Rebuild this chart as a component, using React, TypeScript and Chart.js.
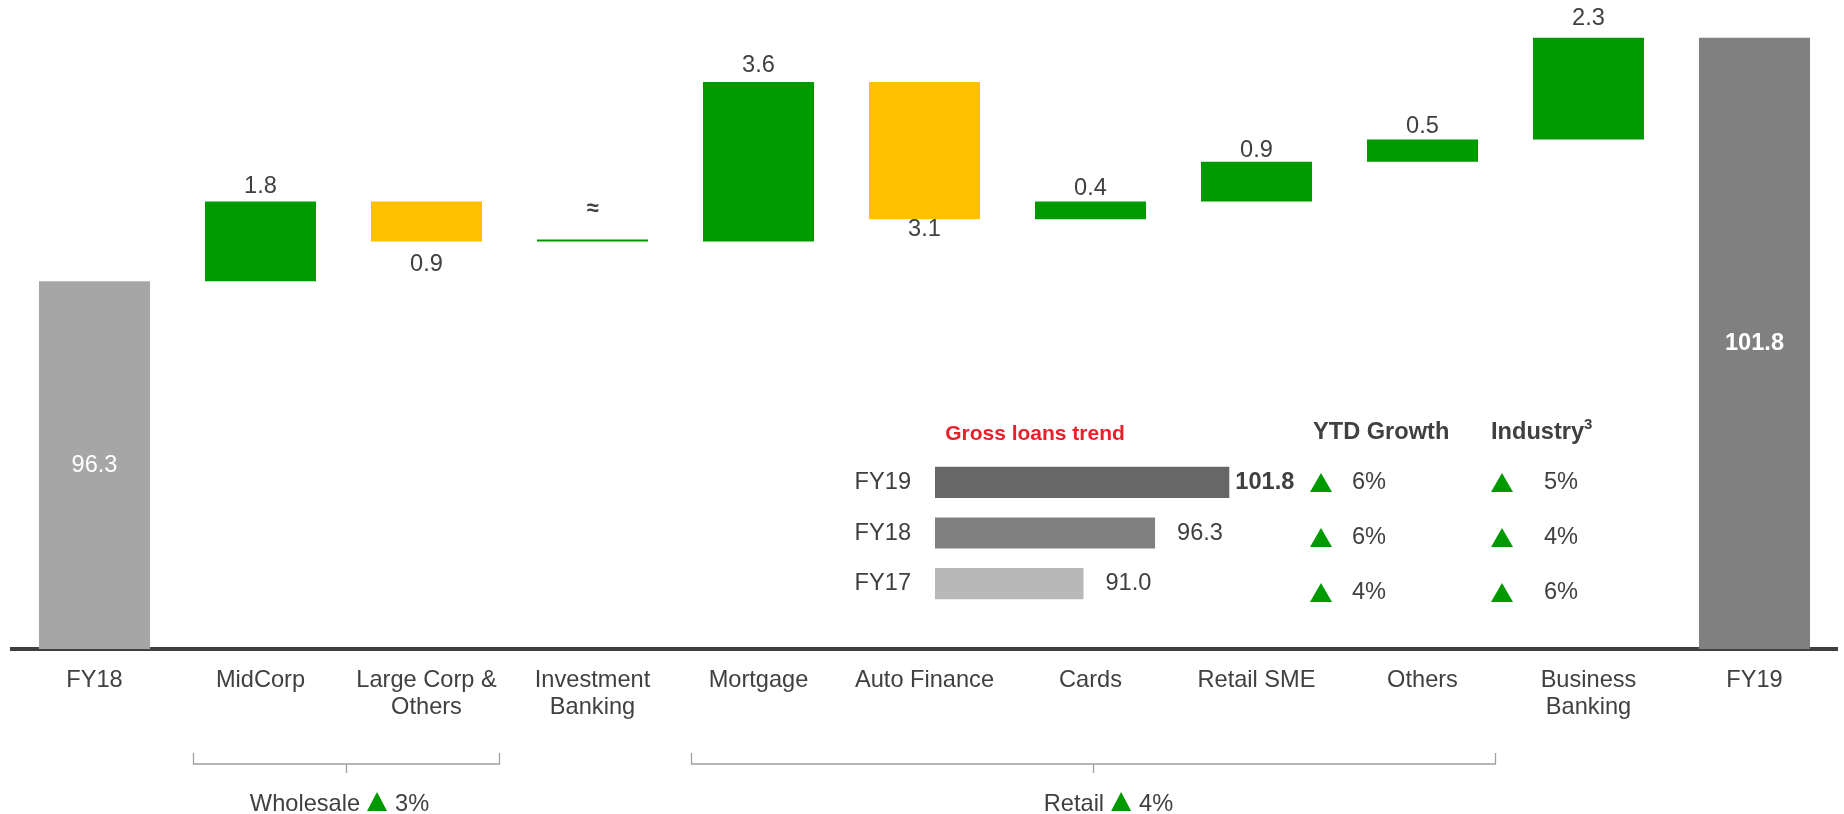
import React, { useEffect, useRef } from "react";
import { Chart, registerables } from "chart.js";

Chart.register(...registerables);

// ---------- data ----------
const categories: string[][] = [
  ["FY18"],
  ["MidCorp"],
  ["Large Corp &", "Others"],
  ["Investment", "Banking"],
  ["Mortgage"],
  ["Auto Finance"],
  ["Cards"],
  ["Retail SME"],
  ["Others"],
  ["Business", "Banking"],
  ["FY19"],
];
const startValue = 96.3;
const changes = [1.8, -0.9, 0, 3.6, -3.1, 0.4, 0.9, 0.5, 2.3];
const changeLabels = ["1.8", "0.9", "≈", "3.6", "3.1", "0.4", "0.9", "0.5", "2.3"];
const endValue = 101.8;
const groupNames = ["Wholesale", "Retail"];
const groupGrowth = ["3%", "4%"];
const groupFrom = [1, 4];
const groupTo = [2, 8];

const trendYears = ["FY19", "FY18", "FY17"];
const trendValues = [101.8, 96.3, 91.0];
const ytdGrowth = ["6%", "6%", "4%"];
const industryGrowth = ["5%", "4%", "6%"];

const axisMin = 88;
const axisMax = 102.65;
const insetMin = 80;
const insetMax = 110;

// ---------- style ----------
const FONT = "'Liberation Sans', Arial, sans-serif";
const TEXT = "#404040";
const GREEN = "#009900";
const YELLOW = "#FFC000";
const labelGap = [0, 9, 13, 0, 10, 0, 7, 5, 7, 13, 0];
const groupTextShift = [-7, 15];
const insetColors = ["#676767", "#808080", "#B8B8B8"];
const insetGap = [6, 22, 22];
const rowY = [482, 537, 592];

function buildBars() {
  const ranges: [number, number][] = [[axisMin, startValue]];
  const colors: string[] = ["#A6A6A6"];
  let cum = startValue;
  changes.forEach((c) => {
    ranges.push([cum, cum + c]);
    colors.push(c < 0 ? YELLOW : GREEN);
    cum += c;
  });
  ranges.push([axisMin, endValue]);
  colors.push("#808080");
  return { ranges, colors };
}

const labelPlugin = {
  id: "wfLabels",
  afterDatasetsDraw(chart: any) {
    const ctx = chart.ctx;
    const meta = chart.getDatasetMeta(0);
    ctx.save();
    meta.data.forEach((bar: any, i: number) => {
      const top = Math.min(bar.y, bar.base);
      const bottom = Math.max(bar.y, bar.base);
      ctx.textAlign = "center";
      if (i === 0 || i === categories.length - 1) {
        const v = i === 0 ? startValue : endValue;
        ctx.fillStyle = "#FFFFFF";
        ctx.font = `${i === 0 ? "" : "bold "}23.6px ${FONT}`;
        ctx.textBaseline = "middle";
        ctx.fillText(v.toFixed(1), bar.x, (top + bottom) / 2);
        return;
      }
      const c = changes[i - 1];
      ctx.fillStyle = TEXT;
      if (c === 0) {
        ctx.font = `bold 22px ${FONT}`;
        ctx.textBaseline = "middle";
        ctx.fillText(changeLabels[i - 1], bar.x, bar.y - 30);
      } else if (c > 0) {
        ctx.font = `23.6px ${FONT}`;
        ctx.textBaseline = "alphabetic";
        ctx.fillText(changeLabels[i - 1], bar.x, top - labelGap[i]);
      } else {
        ctx.font = `23.6px ${FONT}`;
        ctx.textBaseline = "alphabetic";
        ctx.fillText(changeLabels[i - 1], bar.x, bottom + labelGap[i] + 17);
      }
    });

    // group brackets
    const xs = chart.scales.x;
    groupNames.forEach((name, k) => {
      const x1 = xs.getPixelForValue(groupFrom[k]) - 67;
      const x2 = xs.getPixelForValue(groupTo[k]) + 73;
      const mid = (x1 + x2) / 2;
      ctx.strokeStyle = "#A0A0A0";
      ctx.lineWidth = 1.3;
      ctx.beginPath();
      ctx.moveTo(x1, 753);
      ctx.lineTo(x1, 764);
      ctx.lineTo(x2, 764);
      ctx.lineTo(x2, 753);
      ctx.moveTo(mid, 764);
      ctx.lineTo(mid, 773);
      ctx.stroke();

      ctx.font = `23.6px ${FONT}`;
      ctx.textBaseline = "alphabetic";
      ctx.textAlign = "left";
      const w1 = ctx.measureText(name).width;
      const w2 = ctx.measureText(groupGrowth[k]).width;
      const triW = 20;
      const total = w1 + 7 + triW + 8 + w2;
      let x = mid + groupTextShift[k] - total / 2;
      const base = 811;
      ctx.fillStyle = TEXT;
      ctx.fillText(name, x, base);
      x += w1 + 7;
      ctx.fillStyle = GREEN;
      ctx.beginPath();
      ctx.moveTo(x + triW / 2, base - 19);
      ctx.lineTo(x + triW, base);
      ctx.lineTo(x, base);
      ctx.closePath();
      ctx.fill();
      x += triW + 8;
      ctx.fillStyle = TEXT;
      ctx.fillText(groupGrowth[k], x, base);
    });
    ctx.restore();
  },
};

const insetLabelPlugin = {
  id: "insetLabels",
  afterDatasetsDraw(chart: any) {
    const ctx = chart.ctx;
    const meta = chart.getDatasetMeta(0);
    ctx.save();
    ctx.fillStyle = TEXT;
    ctx.textBaseline = "middle";
    meta.data.forEach((bar: any, i: number) => {
      ctx.textAlign = "right";
      ctx.font = `23.6px ${FONT}`;
      ctx.fillText(trendYears[i], chart.chartArea.left - 24, bar.y);
      ctx.textAlign = "left";
      ctx.font = `${i === 0 ? "bold " : ""}23.6px ${FONT}`;
      ctx.fillText(trendValues[i].toFixed(1), bar.x + insetGap[i], bar.y);
    });
    ctx.restore();
  },
};

function Triangle({ cx, cy }: { cx: number; cy: number }) {
  return (
    <svg
      width={22}
      height={19}
      style={{ position: "absolute", left: cx - 11, top: cy - 9.5 }}
    >
      <polygon points="11,0 22,19 0,19" fill={GREEN} />
    </svg>
  );
}

function Txt(props: { left: number; y: number; bold?: boolean; color?: string; size?: number; center?: boolean; children: any }) {
  const { left, y, bold, color, size, center, children } = props;
  return (
    <div
      style={{
        position: "absolute",
        left,
        top: y,
        transform: center ? "translate(-50%, -50%)" : "translateY(-50%)",
        whiteSpace: "nowrap",
        fontFamily: FONT,
        fontSize: size ?? 23.6,
        fontWeight: bold ? "bold" : "normal",
        color: color ?? TEXT,
        lineHeight: 1,
      }}
    >
      {children}
    </div>
  );
}

export default function App() {
  const mainRef = useRef<HTMLCanvasElement>(null);
  const insetRef = useRef<HTMLCanvasElement>(null);

  useEffect(() => {
    const { ranges, colors } = buildBars();
    const main = new Chart(mainRef.current!, {
      type: "bar",
      data: {
        labels: categories,
        datasets: [
          {
            data: ranges as any,
            backgroundColor: colors,
            borderWidth: 0,
            barPercentage: 0.669,
            categoryPercentage: 1,
            minBarLength: 2,
          },
        ],
      },
      options: {
        animation: false,
        responsive: false,
        maintainAspectRatio: false,
        layout: { padding: { left: 11.5, right: 6.5, top: 0, bottom: 0 } },
        plugins: { legend: { display: false }, tooltip: { enabled: false } },
        scales: {
          x: {
            grid: { display: false, drawTicks: false },
            border: { display: true, color: "#404040", width: 4 },
            ticks: {
              color: TEXT,
              font: { family: FONT, size: 23.6, lineHeight: 1.15 },
              padding: 18,
              maxRotation: 0,
              autoSkip: false,
            },
            afterFit: (s: any) => {
              s.height = 165;
            },
          },
          y: { display: false, min: axisMin, max: axisMax },
        },
      },
      plugins: [labelPlugin],
    });

    const inset = new Chart(insetRef.current!, {
      type: "bar",
      data: {
        labels: trendYears,
        datasets: [
          {
            data: trendValues.map((v) => [insetMin, v]) as any,
            backgroundColor: insetColors,
            borderWidth: 0,
            barPercentage: 0.614,
            categoryPercentage: 1,
          },
        ],
      },
      options: {
        indexAxis: "y",
        animation: false,
        responsive: false,
        maintainAspectRatio: false,
        layout: { padding: { left: 95, right: 0, top: 0, bottom: 0 } },
        plugins: { legend: { display: false }, tooltip: { enabled: false } },
        scales: {
          x: { display: false, min: insetMin, max: insetMax },
          y: { display: false },
        },
      },
      plugins: [insetLabelPlugin],
    });

    return () => {
      main.destroy();
      inset.destroy();
    };
  }, []);

  return (
    <div style={{ position: "absolute", left: 0, top: 0, width: 1844, height: 814, background: "#fff", overflow: "hidden" }}>
      <canvas ref={mainRef} width={1844} height={814} style={{ position: "absolute", left: 0, top: 0 }} />
      <canvas ref={insetRef} width={500} height={152} style={{ position: "absolute", left: 840, top: 457 }} />
      <Txt left={1035} y={432} bold color="#E8202A" size={21} center>
        Gross loans trend
      </Txt>
      <Txt left={1313} y={432} bold>
        YTD Growth
      </Txt>
      <Txt left={1491} y={432} bold>
        Industry<sup style={{ fontSize: 15, verticalAlign: "top", position: "relative", top: -4 }}>3</sup>
      </Txt>
      {ytdGrowth.map((g, i) => (
        <React.Fragment key={"y" + i}>
          <Triangle cx={1321} cy={rowY[i]} />
          <Txt left={1352} y={rowY[i]}>{g}</Txt>
        </React.Fragment>
      ))}
      {industryGrowth.map((g, i) => (
        <React.Fragment key={"i" + i}>
          <Triangle cx={1502} cy={rowY[i]} />
          <Txt left={1544} y={rowY[i]}>{g}</Txt>
        </React.Fragment>
      ))}
    </div>
  );
}
